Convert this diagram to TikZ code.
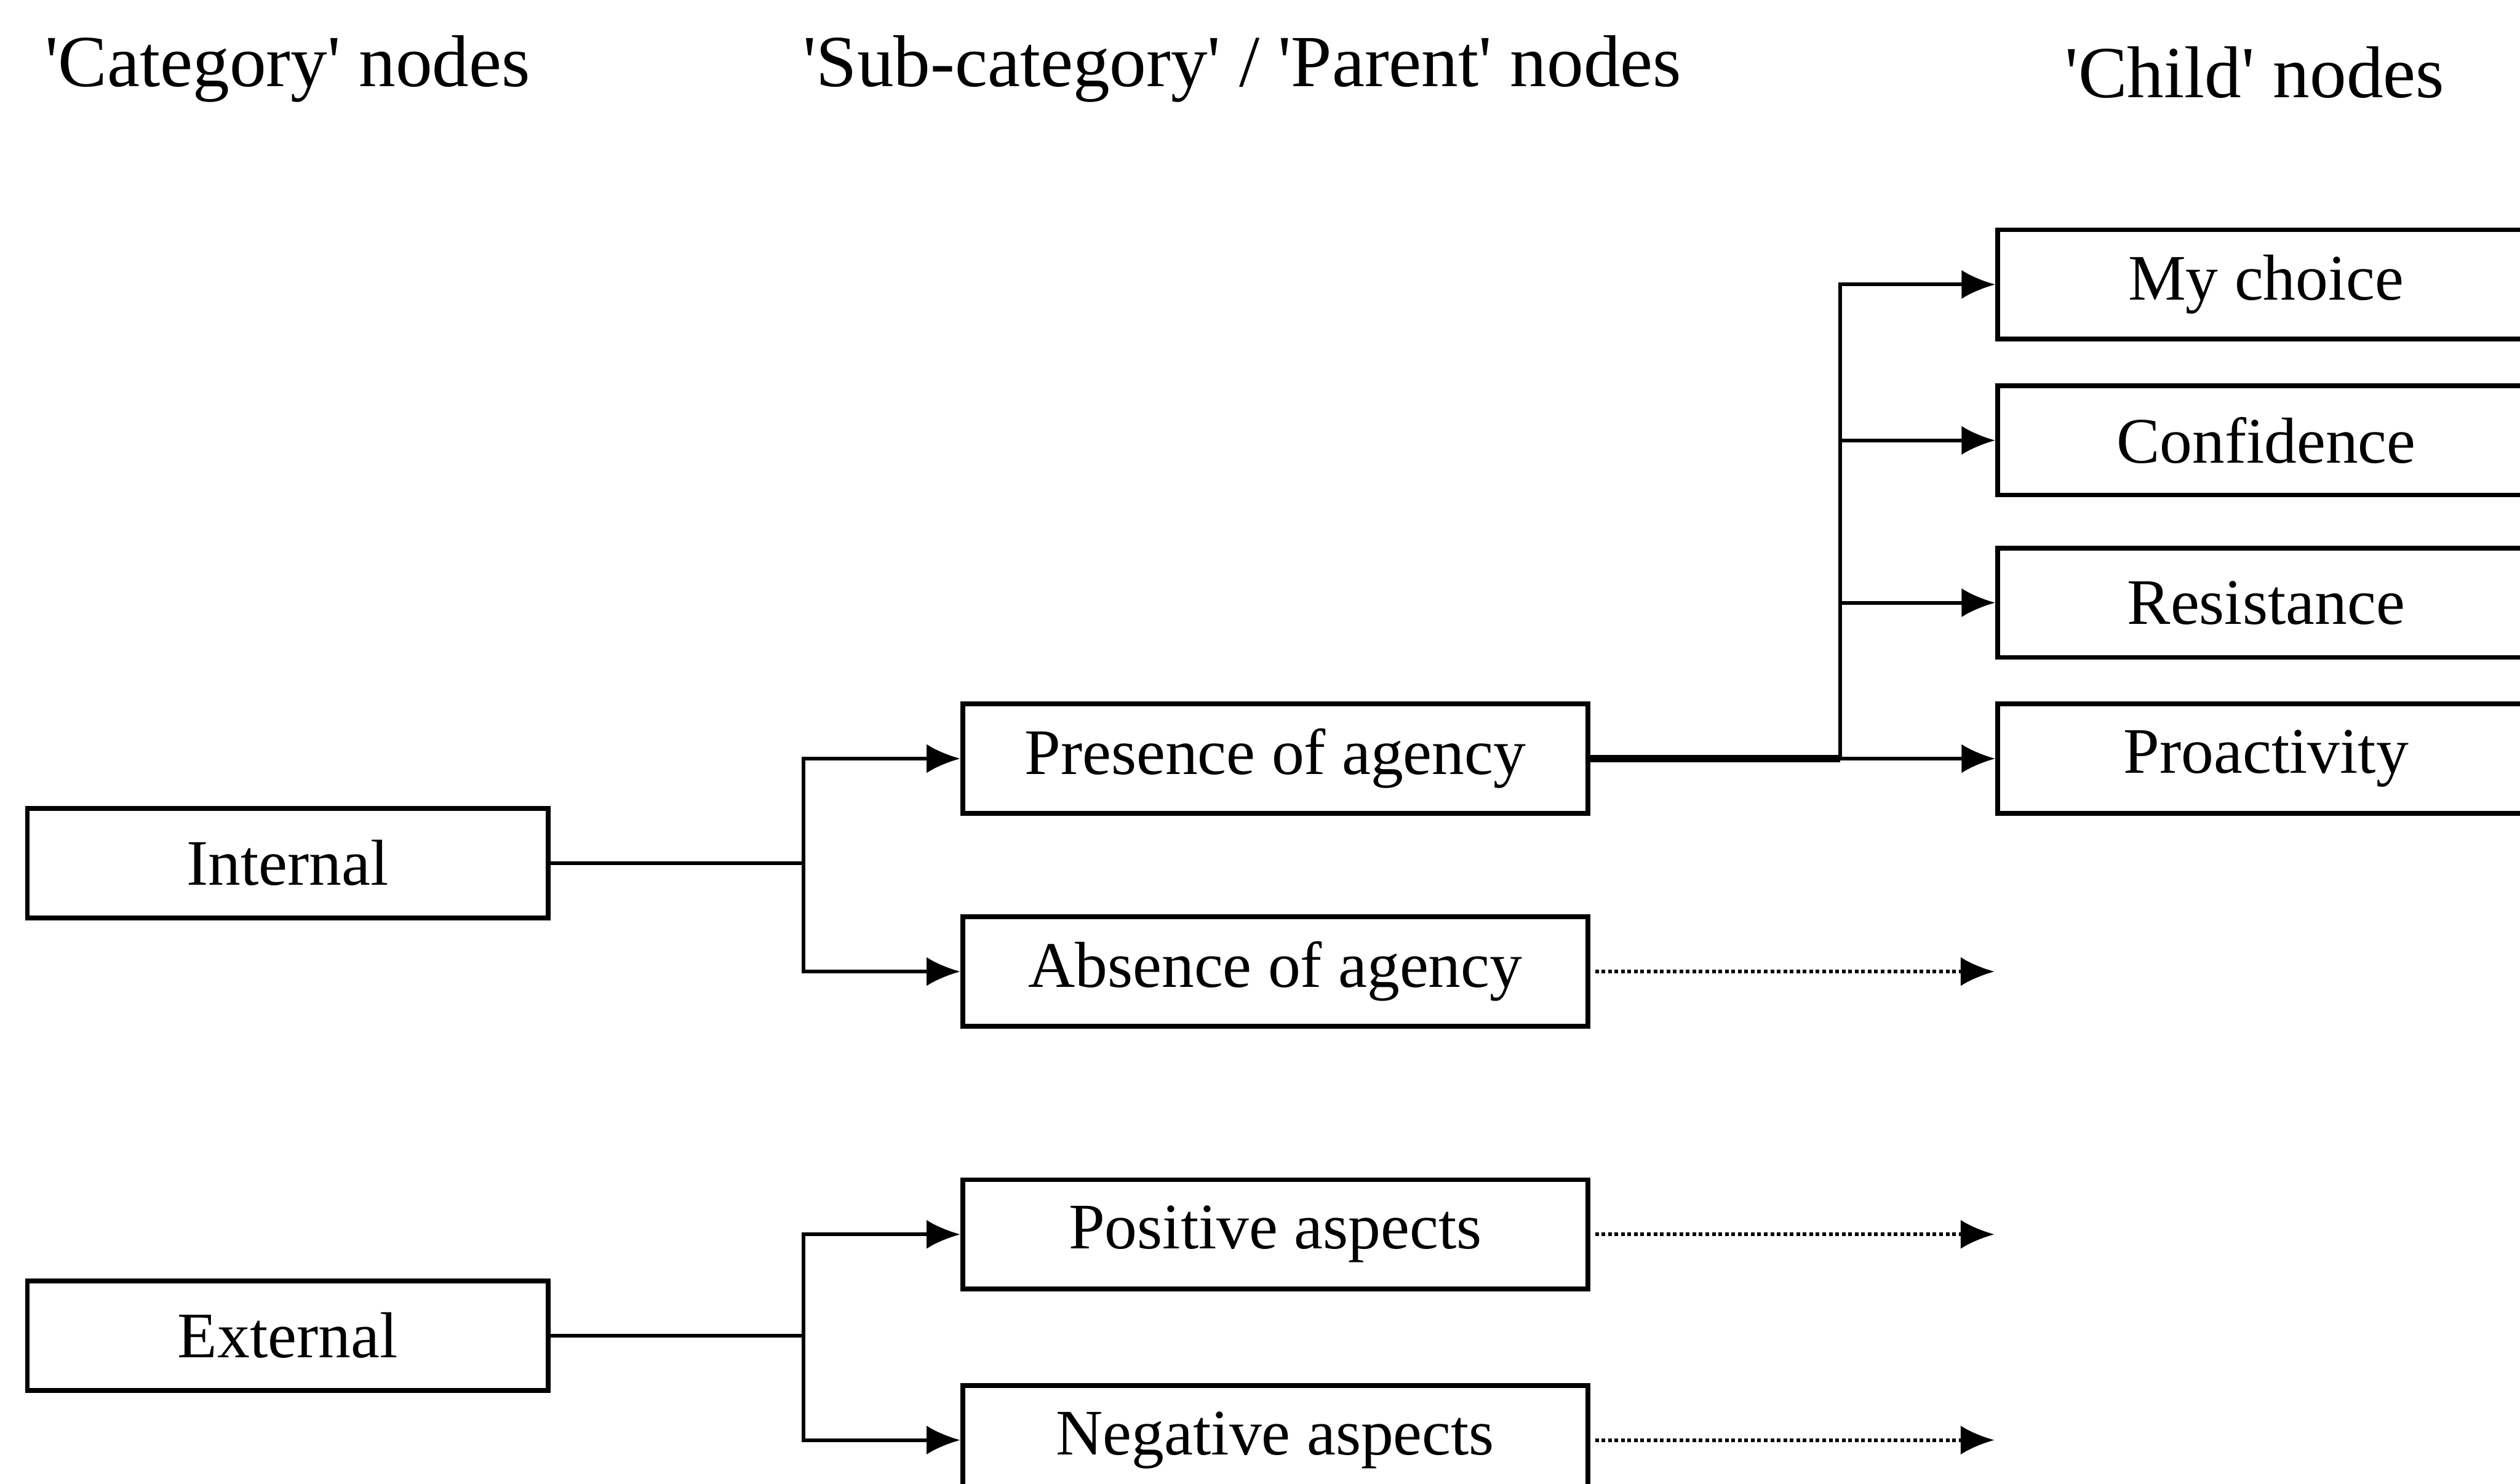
\documentclass[tikz,border=0pt]{standalone}
\usepackage{fontspec}
\setmainfont{Liberation Serif}
\usetikzlibrary{arrows.meta}
\begin{document}
\begin{tikzpicture}[x=0.02cm,y=-0.02cm,
  box/.style={draw, line width=1.7pt, minimum height=1.36cm, inner sep=0pt,
    font=\fontsize{23}{26}\selectfont},
  catbox/.style={box, minimum width=6.48cm},
  parbox/.style={box, minimum width=7.78cm},
  chbox/.style={box, minimum width=6.68cm},
  conn/.style={line width=1.3pt},
  tip/.style={-{Latex[length=0.42cm,width=0.36cm]}},
  arr/.style={conn, tip},
  dotarr/.style={line width=1.3pt, densely dotted, tip},
  hdr/.style={font=\fontsize{26}{30}\selectfont, inner sep=0pt}
]
\useasboundingbox (0,0) rectangle (1568,923);
\clip (0,0) rectangle (1568,923);
\fill[white] (0,0) rectangle (1568,923);

% headers
\node[hdr] (h1) at (179,43) {\textquotesingle Category\textquotesingle\ nodes};
\node[hdr] (h2) at (773,43) {\textquotesingle Sub-category\textquotesingle\ / \textquotesingle Parent\textquotesingle\ nodes};
\node[hdr] (h3) at (1403,45) {\textquotesingle Child\textquotesingle\ nodes};

% category nodes
\node[catbox] (int) at (179,537) {Internal};
\node[catbox] (ext) at (179,831) {External};

% parent nodes
\node[parbox] (pres) at (793.5,472) {Presence of agency};
\node[parbox] (abs) at (793.5,604.5) {Absence of agency};
\node[parbox] (pos) at (793.5,768) {Positive aspects};
\node[parbox] (neg) at (793.5,896) {Negative aspects};

% child nodes
\node[chbox] (myc) at (1410,177) {My choice};
\node[chbox] (conf) at (1410,274) {Confidence};
\node[chbox] (res) at (1410,375) {Resistance};
\node[chbox] (pro) at (1410,472) {Proactivity};

% branch points
\coordinate (bi) at (500,537);
\coordinate (be) at (500,831);
\coordinate (bp) at (1145,472);

% internal connectors
\draw[conn] (int.east) -- (bi);
\draw[arr] (bi) |- (pres.west);
\draw[arr] (bi) |- (abs.west);

% external connectors
\draw[conn] (ext.east) -- (be);
\draw[arr] (be) |- (pos.west);
\draw[arr] (be) |- (neg.west);

% presence connectors
\draw[line width=2.6pt] (pres.east) -- (bp);
\draw[arr] (bp) |- (myc.west);
\draw[arr] (bp) |- (conf.west);
\draw[arr] (bp) |- (res.west);
\draw[arr] (bp) -- (pro.west);

% dotted continuations
\coordinate (ea) at (1241,604.5);
\coordinate (ep) at (1241,768);
\coordinate (en) at (1241,896);
\draw[dotarr] ([xshift=0.06cm]abs.east) -- (ea);
\draw[dotarr] ([xshift=0.06cm]pos.east) -- (ep);
\draw[dotarr] ([xshift=0.06cm]neg.east) -- (en);
\end{tikzpicture}
\end{document}
